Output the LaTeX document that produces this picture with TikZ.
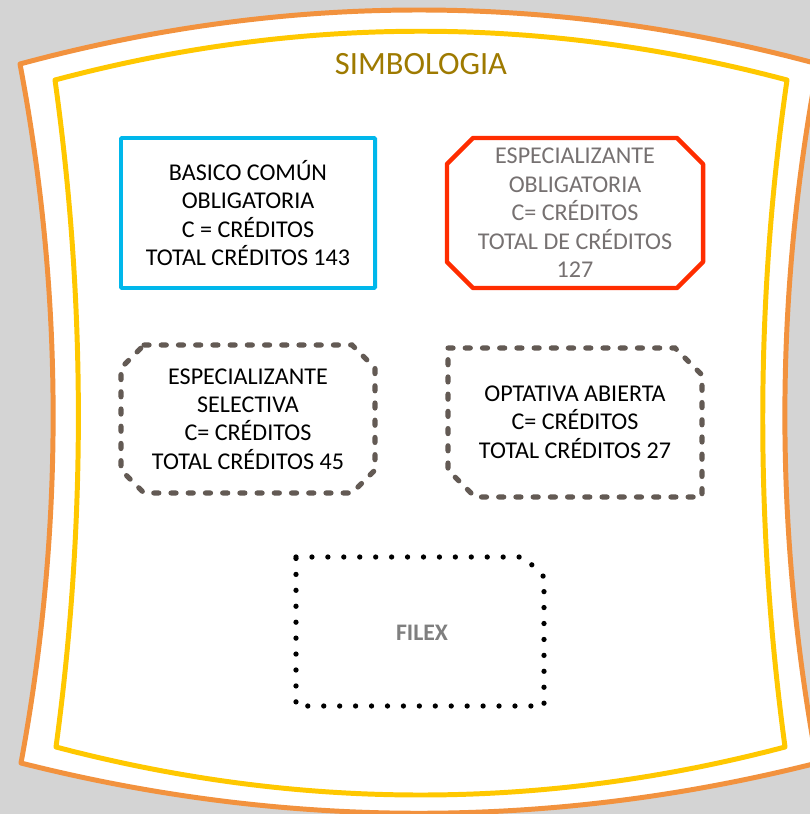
\documentclass[tikz,border=0pt]{standalone}
\usepackage{fontspec}
\setmainfont{Carlito}
\definecolor{fondo}{RGB}{212,212,212}
\definecolor{naranja}{RGB}{242,146,62}
\definecolor{amarillo}{RGB}{255,200,0}
\definecolor{dorado}{RGB}{158,122,0}
\definecolor{celeste}{RGB}{0,183,235}
\definecolor{rojo}{RGB}{255,45,0}
\definecolor{cafe}{RGB}{99,90,84}
\definecolor{grisletra}{RGB}{118,113,113}
\definecolor{grisfilex}{RGB}{127,127,127}
\tikzset{
  marco/.style={line width=2.83pt,line join=round},
  texto/.style={align=center,font=\fontsize{13.7}{16.2}\selectfont},
  raya/.style={cafe,line width=2.9pt,line cap=round,dash pattern=on 2.9pt off 6.9pt},
  punto/.style={line width=3pt,line cap=round,dash pattern=on 0pt off 9.07pt}
}
\begin{document}
\begin{tikzpicture}[x=0.02cm,y=-0.02cm]
  \fill[fondo] (0,0) rectangle (810,814);
  \useasboundingbox (0,0) rectangle (810,814);
  \clip (0,0) rectangle (810,814);
  \draw[marco,naranja,fill=white] (20,64) .. controls (286,-8) and (552,-8) .. (818,64)
    .. controls (774,297) and (774,530) .. (817,763)
    .. controls (552,830) and (286,830) .. (21,763)
    .. controls (64,530) and (64,297) .. cycle;
  \draw[marco,amarillo] (55,80) .. controls (299,15) and (543,15) .. (787,80)
    .. controls (755,302) and (755,525) .. (785,747)
    .. controls (542,811) and (299,811) .. (56,747)
    .. controls (86,525) and (86,302) .. cycle;
  \node[dorado,font=\fontsize{18.5}{22}\selectfont] (titulo) at (421,64) {SIMBOLOGIA};
  % cajas
  \draw[celeste,line width=2.27pt,rounded corners=0.6pt] (121,138) rectangle (375,288);
  \draw[rojo,line width=2.55pt,line join=round] (473,138) -- (677,138) -- (703,164) -- (703,262)
    -- (677,288) -- (473,288) -- (447,262) -- (447,164) -- cycle;
  \draw[raya] (144,345) -- (352,345) -- (375,368) -- (375,470) -- (352,493) -- (144,493)
    -- (121,470) -- (121,368) -- cycle;
  \draw[raya] (448,348) -- (675,348) -- (702,375) -- (702,497) -- (475,497) -- (448,470) -- cycle;
  \draw[punto] (296,557) -- (524,557) -- (544,577) -- (544,706) -- (296,706) -- cycle;
  % textos
  \node[texto] (basico) at (248,213) {BASICO COMÚN\\OBLIGATORIA\\C = CRÉDITOS\\TOTAL CRÉDITOS 143};
  \node[texto,grisletra] (obligatoria) at (575,213) {ESPECIALIZANTE\\OBLIGATORIA\\C= CRÉDITOS\\TOTAL DE CRÉDITOS\\127};
  \node[texto] (selectiva) at (248,419) {ESPECIALIZANTE\\SELECTIVA\\C= CRÉDITOS\\TOTAL CRÉDITOS 45};
  \node[texto] (optativa) at (575,422) {OPTATIVA ABIERTA\\C= CRÉDITOS\\TOTAL CRÉDITOS 27};
  \node[grisfilex,font=\fontsize{13.5}{16}\selectfont\bfseries] (filex) at (422,633) {FILEX};
\end{tikzpicture}
\end{document}
